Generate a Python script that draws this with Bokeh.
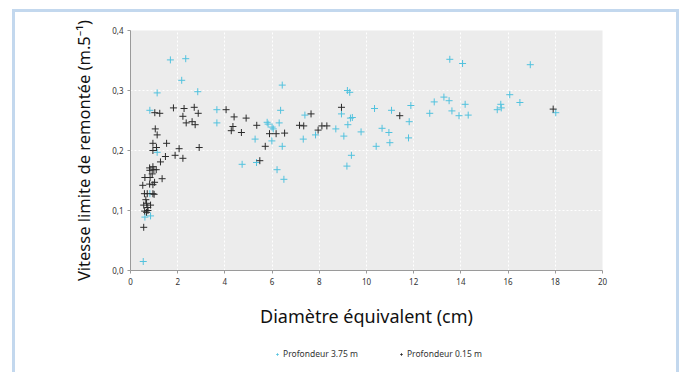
from bokeh.plotting import figure
from bokeh.models import Range1d, FixedTicker, Legend, LegendItem, InlineStyleSheet
from bokeh.layouts import column
from bokeh.embed import file_html
from bokeh.resources import INLINE

# Profondeur 3.75 m (cyan)
x_deep = [0.54, 0.61, 0.85, 0.82, 1.13, 0.82, 1.13, 1.69, 2.34, 2.17, 2.85, 3.66, 3.66, 4.73, 5.34,
          5.28, 5.79, 5.83, 6.00, 6.05, 5.99, 6.36, 6.30, 6.43, 6.43, 6.21, 6.50, 7.39, 7.32, 7.84,
          8.70, 8.94, 9.04, 9.17, 9.19, 9.29, 9.21, 9.32, 9.40, 9.36, 9.77, 10.34, 10.41, 10.66, 10.95,
          10.99, 11.06, 11.81, 11.78, 11.88, 12.68, 12.87, 13.28, 13.50, 13.53, 13.62, 13.92, 14.07,
          14.18, 14.31, 15.54, 15.69, 15.71, 16.07, 16.50, 16.94, 18.02]
y_deep = [0.015, 0.089, 0.091, 0.128, 0.197, 0.267, 0.296, 0.351, 0.353, 0.317, 0.298, 0.268, 0.246,
          0.177, 0.180, 0.219, 0.247, 0.244, 0.239, 0.236, 0.216, 0.267, 0.246, 0.309, 0.207, 0.168,
          0.152, 0.259, 0.219, 0.226, 0.236, 0.261, 0.224, 0.174, 0.300, 0.297, 0.243, 0.254, 0.255,
          0.192, 0.231, 0.270, 0.207, 0.237, 0.230, 0.213, 0.267, 0.248, 0.221, 0.275, 0.262, 0.281,
          0.289, 0.283, 0.352, 0.266, 0.258, 0.345, 0.277, 0.259, 0.268, 0.277, 0.271, 0.293, 0.280,
          0.343, 0.263]

# Profondeur 0.15 m (black)
x_shallow = [0.56, 0.60, 0.68, 0.73, 0.74, 0.56, 0.85, 0.68, 0.65, 0.59, 0.71, 0.95, 1.00, 0.52, 0.81,
             0.95, 1.02, 0.61, 0.83, 0.92, 1.34, 0.81, 0.95, 0.99, 1.09, 0.82, 1.27, 1.48, 1.89, 2.22,
             0.95, 1.10, 2.06, 0.95, 1.53, 1.13, 1.05, 1.03, 1.24, 1.82, 2.27, 2.22, 2.36, 2.61, 2.74,
             2.70, 2.87, 2.91, 4.05, 4.39, 4.34, 4.27, 4.70, 4.90, 5.35, 5.48, 5.71, 5.89, 6.17, 6.53,
             7.16, 7.34, 7.65, 7.95, 8.11, 8.32, 8.94, 11.41, 17.91]
y_shallow = [0.072, 0.099, 0.097, 0.105, 0.100, 0.109, 0.109, 0.112, 0.118, 0.128, 0.128, 0.128, 0.127,
             0.142, 0.144, 0.143, 0.147, 0.155, 0.155, 0.161, 0.153, 0.171, 0.173, 0.168, 0.168, 0.167,
             0.181, 0.190, 0.192, 0.187, 0.200, 0.205, 0.203, 0.212, 0.212, 0.226, 0.236, 0.263, 0.262,
             0.271, 0.270, 0.257, 0.246, 0.248, 0.243, 0.272, 0.262, 0.205, 0.268, 0.256, 0.240, 0.233,
             0.230, 0.254, 0.242, 0.183, 0.207, 0.228, 0.228, 0.229, 0.242, 0.241, 0.261, 0.234, 0.241,
             0.241, 0.272, 0.258, 0.269]

x_ticks = [0, 2, 4, 6, 8, 10, 12, 14, 16, 18, 20]
y_ticks = [0.0, 0.1, 0.2, 0.3, 0.4]
y_tick_labels = ["0,0", "0,1", "0,2", "0,3", "0,4"]
series_labels = ["Profondeur 3.75 m", "Profondeur 0.15 m"]

FONT = "Noto Sans"
CYAN = "#52c2de"
DARK = "#2b2b2b"

frame_css = InlineStyleSheet(css="""
:host { overflow: hidden; position: relative; }
:host::after { content: ''; position: absolute; left: 12px; top: 9px; right: 4px; bottom: -20px;
  border: 3px solid #c3d8ee; pointer-events: none; z-index: 10; }
""")

p = figure(width=683, height=335, output_backend="svg", toolbar_location=None,
           x_range=Range1d(0, 20), y_range=Range1d(0, 0.4),
           min_border_left=130, min_border_right=81, min_border_top=30, min_border_bottom=65,
           background_fill_color="#ececec", border_fill_color="white")
p.outline_line_color = None

r1 = p.scatter(x_deep, y_deep, marker="cross", size=7, line_color=CYAN, line_width=1)
r2 = p.scatter(x_shallow, y_shallow, marker="cross", size=7, line_color=DARK, line_width=1)

for ax in (p.xaxis[0], p.yaxis[0]):
    ax.axis_line_color = "#9a9a9a"
    ax.major_tick_line_color = "#9a9a9a"
    ax.major_tick_in = 0
    ax.major_tick_out = 3
    ax.minor_tick_line_color = None
    ax.major_label_text_font = FONT
    ax.major_label_text_font_size = "8px"
    ax.major_label_text_color = "#333333"
    ax.axis_label_text_font = FONT
    ax.axis_label_text_font_style = "normal"
    ax.axis_label_text_color = "#111111"

p.xaxis.axis_label_text_font_size = "18px"
p.yaxis.axis_label_text_font_size = "16.5px"
p.xaxis.ticker = FixedTicker(ticks=x_ticks)
p.yaxis.ticker = FixedTicker(ticks=y_ticks)
p.yaxis.major_label_overrides = {t: l for t, l in zip(y_ticks, y_tick_labels)}
p.xaxis.axis_label = "Diamètre équivalent (cm)"
p.yaxis.axis_label = "Vitesse limite de remontée (m.5⁻¹)"
p.xaxis.axis_label_standoff = 16
p.yaxis.axis_label_standoff = 14
p.xaxis.major_label_standoff = 4
p.yaxis.major_label_standoff = 4

p.grid.grid_line_color = "white"
p.grid.grid_line_dash = "2 2"
p.grid.grid_line_width = 1

# legend strip below the chart (its frame is aligned with the chart's frame: x 130..602)
lg = figure(width=683, height=37, output_backend="svg", toolbar_location=None,
            x_range=Range1d(0, 1), y_range=Range1d(0, 1),
            min_border=0, background_fill_color="white", border_fill_color="white")
lg.outline_line_color = None
lg.axis.visible = False
lg.grid.visible = False
g1 = lg.scatter([-10], [-10], marker="cross", size=5, line_color=CYAN, line_width=1)
g2 = lg.scatter([-10], [-10], marker="cross", size=5, line_color=DARK, line_width=1)
legend = Legend(items=[LegendItem(label=series_labels[0], renderers=[g1]),
                       LegendItem(label=series_labels[1], renderers=[g2])],
                orientation="horizontal", location=(144, 13),
                label_text_font=FONT, label_text_font_size="8.5px", label_text_color="#333333",
                glyph_width=6, glyph_height=8, spacing=40, label_standoff=3,
                label_height=10, border_line_color=None, background_fill_alpha=0,
                margin=0, padding=0)
lg.add_layout(legend, "center")

layout = column(p, lg, spacing=0, stylesheets=[frame_css])
open("out.html", "w").write(file_html(layout, INLINE))
